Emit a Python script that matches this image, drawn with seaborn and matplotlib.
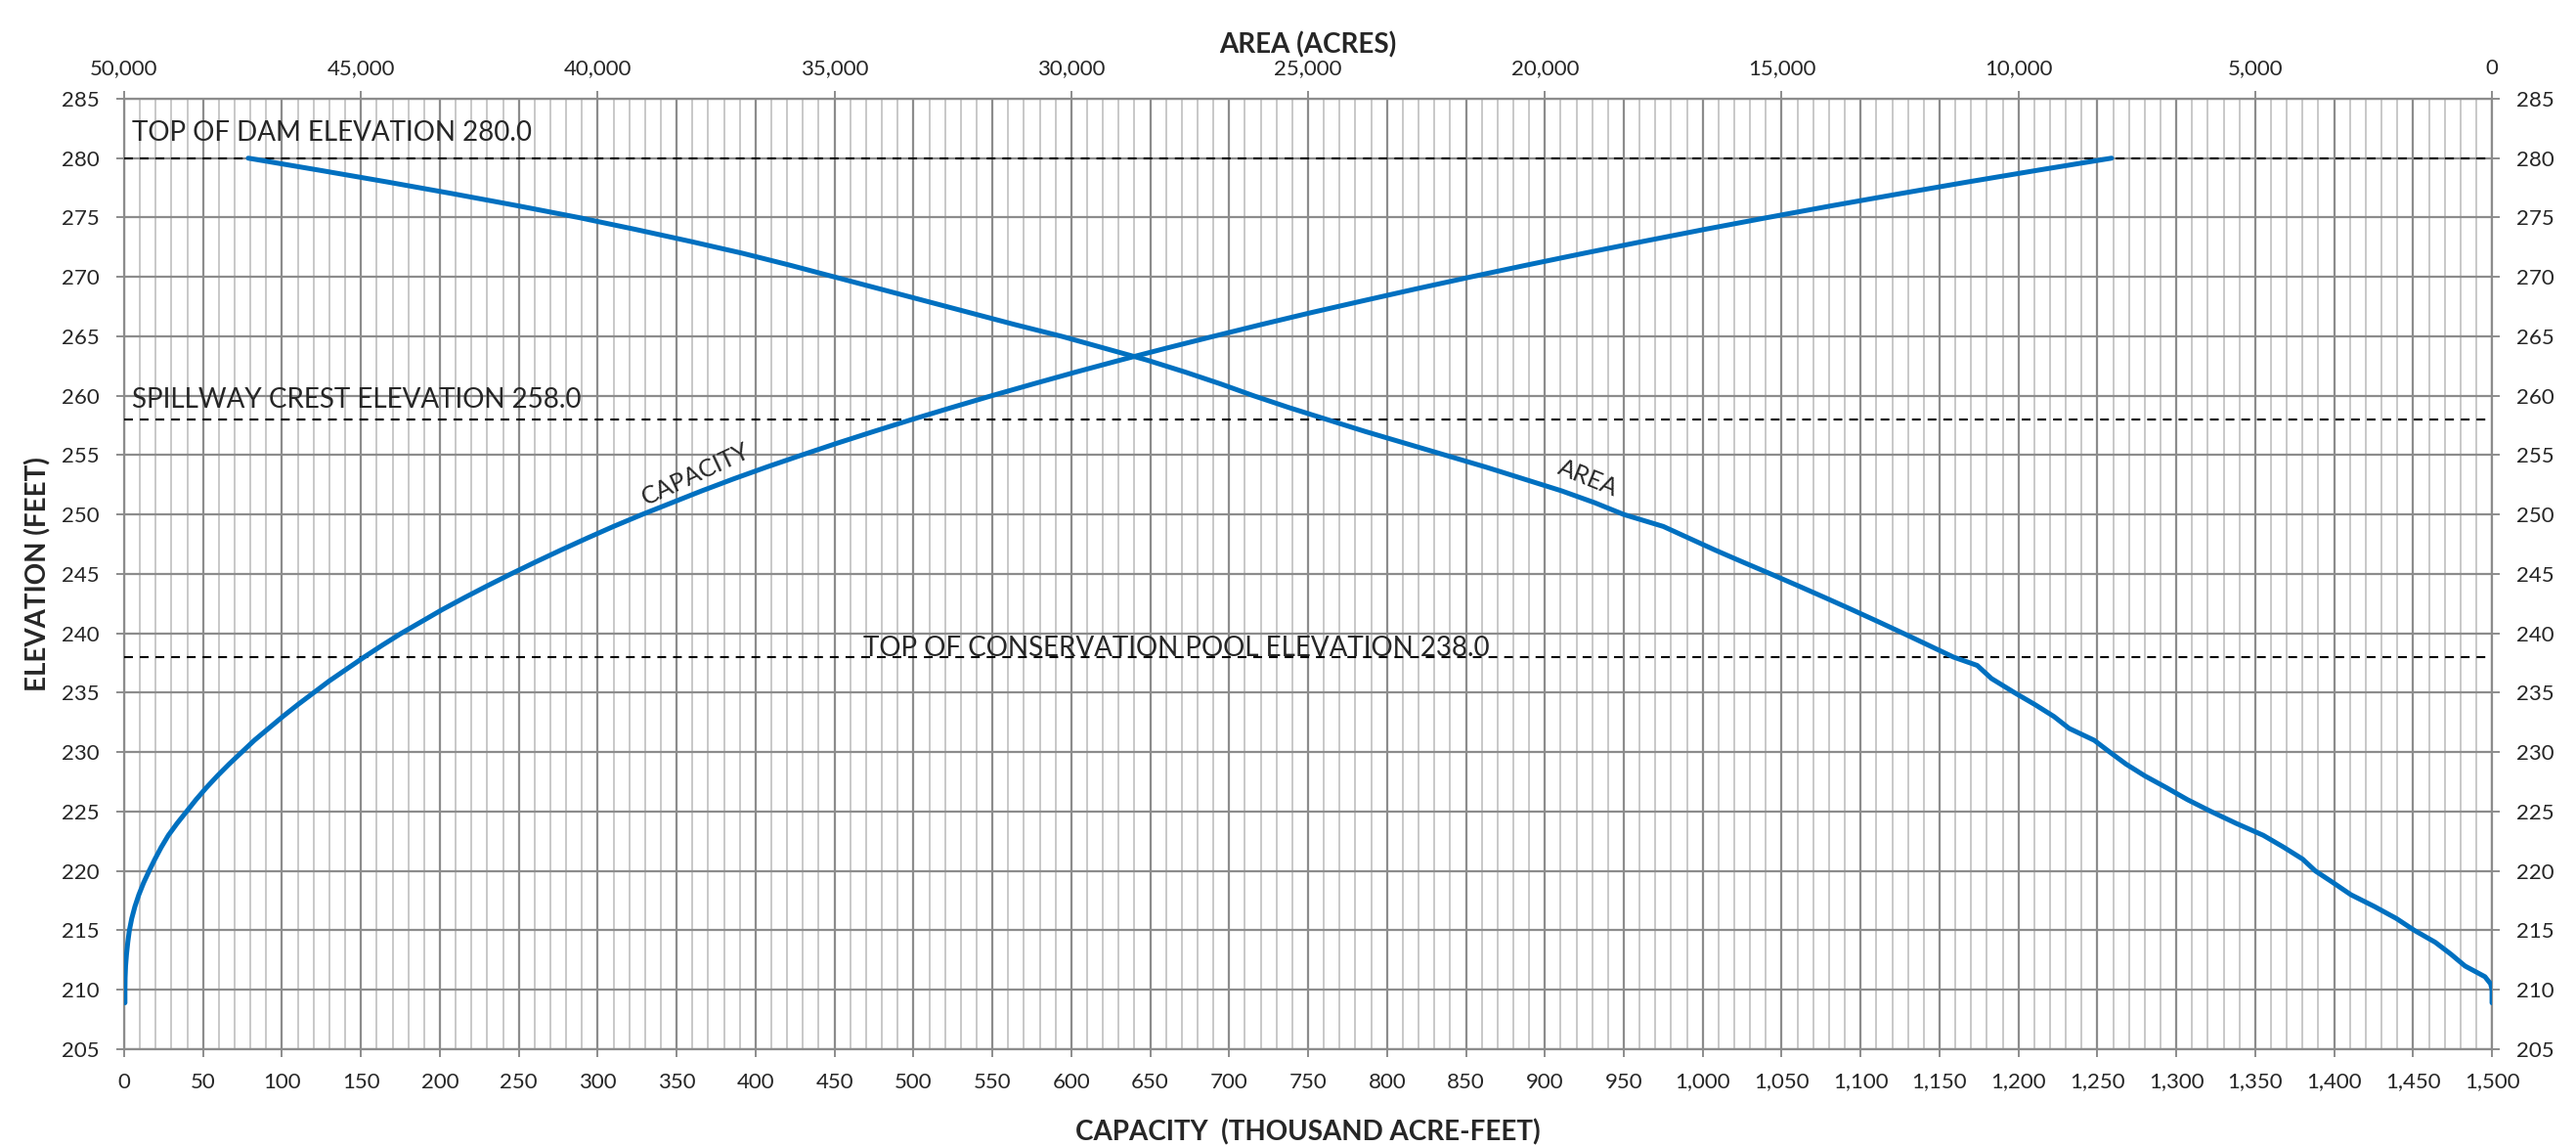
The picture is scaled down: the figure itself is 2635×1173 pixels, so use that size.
import numpy as np
import pandas as pd
import matplotlib
matplotlib.use('Agg')
import matplotlib.pyplot as plt
import seaborn as sns

# capacity curve: elevation (ft) vs capacity (thousand acre-feet)
cap_elev = [208.9, 210, 211, 212, 213, 214, 215, 216, 217, 218, 219, 220, 221, 222, 223,
            224, 225, 226, 227, 228, 229, 230, 231, 232, 233, 234, 235, 236, 237, 238,
            239, 240, 241, 242, 243, 244, 245, 246, 247, 248, 249, 250, 251, 252, 253,
            254, 255, 256, 257, 258, 259, 260, 261, 262, 263, 264, 265, 266, 267, 268,
            269, 270, 271, 272, 273, 274, 275, 276, 277, 278, 279, 280]
capacity = [0.5, 0.5, 0.6, 0.9, 1.5, 2.3, 3.3, 4.8, 6.8, 9.3, 12.3, 15.8, 19.5, 23.5, 28,
            33.5, 39.5, 45.5, 52, 59, 66.5, 74.5, 82.5, 91.5, 100.5, 110, 120, 130, 141, 152,
            163.5, 175.5, 188.5, 201.5, 215.5, 230, 245, 260.5, 276.5, 293, 310, 328, 347, 366, 386,
            407, 429, 451.5, 475, 499, 524, 549.5, 576, 603, 631, 660, 690, 720.5, 752, 785,
            818.5, 853, 888.5, 925, 962.5, 1001, 1041, 1082, 1124.5, 1168, 1213, 1259]

# area curve: elevation (ft) vs area (acres)
area_elev = [280, 279, 278, 277, 276, 275, 274, 273, 272, 271, 270, 269, 268, 267, 266,
             265, 264, 263, 262, 261, 260, 259, 258, 257, 256, 255, 254, 253, 252, 251,
             250, 249, 248, 247, 246, 245, 244, 243, 242, 241, 240, 239, 238, 237.3, 236.2,
             235, 234, 233, 232, 231, 230, 229, 228, 227, 226, 225, 224, 223, 222, 221,
             220, 219, 218, 217, 216, 215, 214, 213, 212, 211.1, 210.5, 210, 208.9]
area = [47380, 45900, 44450, 43050, 41700, 40400, 39200, 38050, 36950, 35950, 35000, 34050, 33100, 32150, 31200,
        30200, 29300, 28400, 27600, 26850, 26150, 25400, 24600, 23800, 22950, 22100, 21250, 20450, 19650, 18950,
        18330, 17500, 16950, 16400, 15820, 15230, 14650, 14080, 13520, 12970, 12430, 11900, 11370, 10870, 10570,
        10080, 9650, 9250, 8930, 8400, 8070, 7730, 7330, 6870, 6430, 5930, 5400, 4830, 4400, 4000,
        3730, 3350, 2980, 2480, 2020, 1640, 1200, 870, 570, 150, 30, 0, 0]

# reference levels and their notes
levels = [280.0, 258.0, 238.0]
level_text = ['TOP OF DAM ELEVATION 280.0', 'SPILLWAY CREST ELEVATION 258.0',
              'TOP OF CONSERVATION POOL ELEVATION 238.0']
level_text_x = [5, 5, 468]
level_text_y = [281.45, 259.0, 238.1]

cap_ticks = list(range(0, 1501, 50))
area_ticks = list(range(50000, -1, -5000))
elev_ticks = list(range(205, 286, 5))

sns.set_theme(style='white')
plt.rcParams['font.family'] = ['Lato', 'DejaVu Sans']

BLUE = '#0070C0'
MAJ = '#8C8C8C'
MIN = '#C8C8C8'

fig = plt.figure(figsize=(26.35, 11.73), dpi=100)
ax = fig.add_axes([0.0482, 0.0853, 0.9192, 0.8286])

cap_df = pd.DataFrame({'capacity': capacity, 'elev': cap_elev})
sns.lineplot(data=cap_df, x='capacity', y='elev', sort=False, estimator=None,
             color=BLUE, lw=3.6, ax=ax, zorder=4)

ax.set_xlim(0, 1500)
ax.set_ylim(205, 285)
ax.set_xticks(cap_ticks)
ax.set_xticks(range(0, 1501, 10), minor=True)
ax.set_xticklabels([f'{v:,}' for v in cap_ticks])
ax.set_yticks(elev_ticks)
ax.grid(which='minor', axis='x', color=MIN, lw=1.4, zorder=0)
ax.grid(which='major', axis='x', color=MAJ, lw=1.6, zorder=1)
ax.grid(which='major', axis='y', color=MAJ, lw=1.6, zorder=1)
ax.set_axisbelow(True)
ax.tick_params(which='minor', length=0)
ax.tick_params(axis='both', which='major', direction='out', length=6, width=1.4,
               color=MAJ, labelsize=16, pad=11)
ax.tick_params(axis='y', left=True, right=True, labelleft=True, labelright=True)
ax.tick_params(axis='y', which='major', pad=12)
for s in ax.spines.values():
    s.set_color(MAJ)
    s.set_linewidth(1.6)

for y, t, tx, ty in zip(levels, level_text, level_text_x, level_text_y):
    ax.axhline(y, color='black', lw=1.5, ls=(0, (4.3, 3.4)), zorder=3)
    ax.text(tx, ty, t, fontsize=20, ha='left', va='baseline', zorder=5)

ax.set_xlabel('CAPACITY  (THOUSAND ACRE-FEET)', fontsize=20, fontweight='bold', labelpad=20)
ax.set_ylabel('ELEVATION (FEET)', fontsize=20, fontweight='bold', labelpad=8)

ax.text(362, 253.4, 'CAPACITY', fontsize=18, rotation=25, ha='center', va='center',
        rotation_mode='anchor', zorder=5)
ax.text(927, 253.1, 'AREA', fontsize=18, rotation=-22, ha='center', va='center',
        rotation_mode='anchor', zorder=5)

ax2 = ax.twiny()
area_df = pd.DataFrame({'area': area, 'elev': area_elev})
sns.lineplot(data=area_df, x='area', y='elev', sort=False, estimator=None,
             color=BLUE, lw=3.6, ax=ax2, zorder=4)
ax2.set_xlim(50000, 0)
ax2.set_ylim(205, 285)
ax2.set_xticks(area_ticks)
ax2.set_xticklabels([f'{v:,}' for v in area_ticks])
ax2.tick_params(axis='x', direction='out', length=6, width=1.4, color=MAJ,
                labelsize=16, pad=9, top=True)
ax2.set_xlabel('AREA (ACRES)', fontsize=20, fontweight='bold', labelpad=4)
ax2.grid(False)
for s in ax2.spines.values():
    s.set_visible(False)

plt.savefig('out.png', dpi=100)
plt.close()
